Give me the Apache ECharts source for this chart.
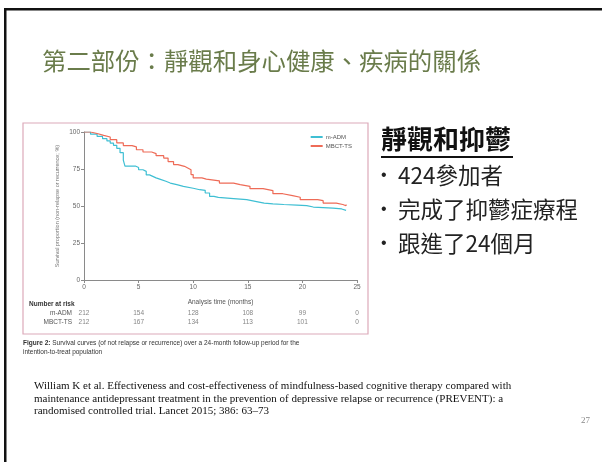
<!DOCTYPE html>
<html>
<head>
<meta charset="utf-8">
<script src="https://cdn.jsdelivr.net/npm/echarts@6/dist/echarts.min.js"></script>
<style>
  html, body { margin: 0; padding: 0; background: #fff; }
  #main { width: 611px; height: 462px; }
</style>
</head>
<body>
<div id="main"></div>
<script>
// Kaplan-Meier curves (months, % without relapse)
const admMonths = [0, 0.6, 1.2, 1.7, 2.1, 2.4, 2.7, 3.0, 3.3, 3.6, 3.75, 4.7, 5.0, 5.4, 5.7, 6.0, 6.3, 6.6, 7.0, 7.5, 7.9, 8.5, 9.1, 10.0, 10.6, 11.1, 11.5, 11.9, 12.3, 13.7, 14.9, 15.8, 16.5, 17.3, 18.3, 19.5, 20.4, 21.0, 22.8, 23.6, 24.0]
const admValues = [100, 98.5, 97, 95.5, 94, 92.5, 91, 89, 86, 81, 77, 76, 74.5, 73.4, 71, 70, 69, 68, 66.7, 65.5, 64.4, 63.3, 62, 61, 60.6, 58.8, 56.5, 55.8, 55, 54.3, 53, 52, 51.5, 51, 50.6, 50.2, 49.3, 48.6, 48, 47, 47]
const mbctMonths = [0, 0.6, 1.2, 1.8, 2.4, 3.0, 3.6, 4.4, 4.8, 5.4, 6.2, 6.6, 7.3, 7.7, 8.2, 8.6, 9.2, 9.5, 9.8, 10.0, 10.8, 11.2, 12.4, 13.7, 14.3, 15.2, 16.4, 17.3, 18.2, 19.1, 19.8, 21.4, 21.9, 23.1, 23.7, 24.0]
const mbctValues = [100, 99, 97.7, 96.6, 94.8, 92.6, 90.8, 89.9, 88, 86.5, 85.4, 84, 82.4, 80, 78, 76.8, 75.7, 74.5, 71.2, 69, 68.2, 67, 65.5, 64.4, 63.3, 61.7, 60.4, 58.3, 57, 55.9, 54.3, 53.6, 52, 51, 50.2, 51]

// number at risk table
const riskMonths = [0, 5, 10, 15, 20, 25]
const riskAdm = [212, 154, 128, 108, 99, 0]
const riskMbct = [212, 167, 134, 113, 101, 0]

const bullets = ['424參加者', '完成了抑鬱症療程', '跟進了24個月']
const refLines = [
  'William K et al. Effectiveness and cost-effectiveness of mindfulness-based cognitive therapy compared with',
  'maintenance antidepressant treatment in the prevention of depressive relapse or recurrence (PREVENT): a',
  'randomised controlled trial. Lancet 2015; 386: 63\u201373'
]

const chart = echarts.init(document.getElementById('main'))

const sans = '"Liberation Sans", Arial, sans-serif'
const cjk = '"Noto Sans CJK TC", "Noto Sans", sans-serif'
const axisGrey = '#8a8a8a'

const option = {
  animation: false,
  backgroundColor: '#fff',
  grid: [
    { left: 84, top: 132, width: 273, height: 148 },
    { left: 84, top: 309, width: 273, height: 18 }
  ],
  legend: {
    orient: 'vertical',
    right: 254,
    top: 129,
    itemWidth: 12,
    itemHeight: 2,
    itemGap: 3,
    icon: 'rect',
    textStyle: { fontSize: 6, color: '#555', fontFamily: sans, padding: [0, 0, 0, -2] },
    data: ['m-ADM', 'MBCT-TS']
  },
  xAxis: [
    {
      gridIndex: 0,
      type: 'value',
      min: 0, max: 25, interval: 5,
      name: 'Analysis time (months)',
      nameLocation: 'middle',
      nameGap: 19,
      nameTextStyle: { fontSize: 6.5, color: '#555', fontFamily: sans },
      axisLine: { lineStyle: { color: axisGrey, width: 1 } },
      axisTick: { length: 3, lineStyle: { color: axisGrey } },
      axisLabel: { fontSize: 6.5, color: '#666', margin: 4, fontFamily: sans },
      splitLine: { show: false }
    },
    {
      gridIndex: 1,
      type: 'value',
      min: 0, max: 25, interval: 5,
      show: false
    }
  ],
  yAxis: [
    {
      gridIndex: 0,
      type: 'value',
      min: 0, max: 100, interval: 25,
      name: 'Survival proportion (non-relapse or recurrence; %)',
      nameLocation: 'middle',
      nameRotate: 90,
      nameGap: 24,
      nameTextStyle: { fontSize: 5.5, color: '#777', fontFamily: sans },
      axisLine: { show: true, lineStyle: { color: axisGrey, width: 1 } },
      axisTick: { show: true, length: 3, lineStyle: { color: axisGrey } },
      axisLabel: { fontSize: 6.5, color: '#666', margin: 4, fontFamily: sans },
      splitLine: { show: false }
    },
    {
      gridIndex: 1,
      type: 'category',
      inverse: true,
      data: ['m-ADM', 'MBCT-TS'],
      axisLine: { show: false },
      axisTick: { show: false },
      axisLabel: { interval: 0, fontSize: 6.5, color: '#555', margin: 12, fontFamily: sans }
    }
  ],
  graphic: [
    // slide frame (top and left edges)
    { type: 'rect', shape: { x: 4, y: 8, width: 598, height: 2.5 }, style: { fill: '#111' } },
    { type: 'rect', shape: { x: 4, y: 8, width: 2.5, height: 460 }, style: { fill: '#111' } },
    // slide title
    {
      type: 'text', left: 42, top: 49,
      style: { text: '第二部份：靜觀和身心健康、疾病的關係', font: '400 24.4px ' + cjk, fill: '#6a7c4b' }
    },
    // figure frame
    {
      type: 'rect', z: -1,
      shape: { x: 23, y: 123, width: 345, height: 211 },
      style: { fill: '#fff', stroke: '#dcaab9', lineWidth: 1.2 }
    },
    {
      type: 'text', left: 29, top: 301,
      style: { text: 'Number at risk', font: 'bold 6.5px ' + sans, fill: '#333' }
    },
    {
      type: 'text', left: 23, top: 339,
      style: {
        text: '{b|Figure 2:} Survival curves (of not relapse or recurrence) over a 24-month follow-up period for the\nintention-to-treat population',
        font: '6.5px ' + sans, fill: '#333', lineHeight: 9,
        rich: { b: { fontWeight: 'bold', fontSize: 6.5, fontFamily: sans, fill: '#333' } }
      }
    },
    // right hand text block
    {
      type: 'text', left: 381, top: 126,
      style: { text: '靜觀和抑鬱', font: 'bold 26px ' + cjk, fill: '#111' }
    },
    { type: 'rect', shape: { x: 381, y: 156, width: 132, height: 2 }, style: { fill: '#111' } },
    ...bullets.map((b, i) => ({
      type: 'text', left: 381, top: 168 + i * 34,
      style: { text: '\u2022', font: '16px ' + sans, fill: '#222' }
    })),
    ...bullets.map((b, i) => ({
      type: 'text', left: 398, top: 164 + i * 34,
      style: { text: b, font: '400 22.5px ' + cjk, fill: '#222' }
    })),
    // reference
    {
      type: 'text', left: 34, top: 380,
      style: { text: refLines.join('\n'), font: '11px "Liberation Serif", "Times New Roman", serif', fill: '#111', lineHeight: 12.5 }
    },
    {
      type: 'text', left: 581, top: 416,
      style: { text: '27', font: '9px "Liberation Serif", serif', fill: '#888' }
    }
  ],
  series: [
    {
      name: 'm-ADM',
      type: 'line',
      xAxisIndex: 0, yAxisIndex: 0,
      step: 'end',
      showSymbol: false,
      color: '#3fbfd3',
      lineStyle: { width: 1.2 },
      data: admMonths.map((m, i) => [m, admValues[i]])
    },
    {
      name: 'MBCT-TS',
      type: 'line',
      xAxisIndex: 0, yAxisIndex: 0,
      step: 'end',
      showSymbol: false,
      color: '#ee6b57',
      lineStyle: { width: 1.2 },
      data: mbctMonths.map((m, i) => [m, mbctValues[i]])
    },
    {
      name: 'risk',
      type: 'scatter',
      xAxisIndex: 1, yAxisIndex: 1,
      symbolSize: 0,
      silent: true,
      label: {
        show: true, position: 'inside',
        fontSize: 6.5, color: '#666', fontFamily: sans,
        formatter: p => p.data[2]
      },
      data: [
        ...riskMonths.map((m, i) => [m, 'm-ADM', riskAdm[i]]),
        ...riskMonths.map((m, i) => [m, 'MBCT-TS', riskMbct[i]])
      ]
    }
  ]
}

chart.setOption(option)
</script>
</body>
</html>
